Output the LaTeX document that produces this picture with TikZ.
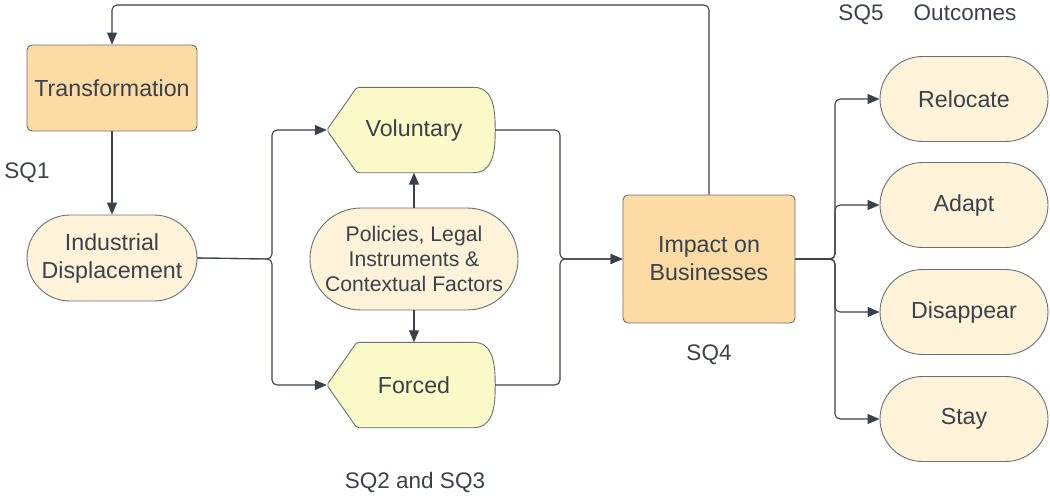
\documentclass[tikz,border=0pt]{standalone}
\usepackage{fontspec}
\setmainfont{Liberation Sans}
\usetikzlibrary{shapes.misc,arrows.meta,calc,backgrounds}
\definecolor{orangefill}{HTML}{FDDBA4}
\definecolor{creamfill}{HTML}{FEF2D9}
\definecolor{yellowfill}{HTML}{FAFAC8}
\definecolor{edgegray}{HTML}{6B6E73}
\definecolor{ink}{HTML}{3A414A}
\begin{document}
\begin{tikzpicture}[x=1pt,y=-1pt,
  every node/.style={text=ink, inner sep=0pt},
  mainfont/.style={font=\fontsize{23.2}{28}\selectfont},
  procbox/.style={draw=edgegray, line width=0.9pt, fill=orangefill, rounded corners=5pt, mainfont, align=center},
  stadium/.style={draw=edgegray, line width=0.9pt, fill=creamfill, rounded rectangle, mainfont, align=center},
  dispnode/.style={minimum width=168pt, minimum height=85pt, mainfont},
  dispshape/.style={draw=edgegray, line width=0.9pt, fill=yellowfill, rounded corners=2pt},
  lbl/.style={font=\fontsize{22.5}{26}\selectfont, anchor=base},
  conn/.style={draw=ink, line width=1.1pt, rounded corners=5pt},
  arr/.style={conn, -{Triangle[length=12pt,width=10pt]}}
]
\useasboundingbox (0,0) rectangle (1050,498);

% nodes
\node[procbox, minimum width=170pt, minimum height=86pt] (trans) at (112,88) {Transformation};
\node[stadium, minimum width=170pt, minimum height=86pt] (disp) at (112,258) {Industrial\\Displacement};
\node[dispnode] (vol) at (411,130) {\hspace*{6pt}Voluntary};
\node[dispnode] (forc) at (411,385) {\hspace*{6pt}Forced};
\node[stadium, minimum width=208pt, minimum height=102pt, font=\fontsize{21.2}{25}\selectfont] (pol) at (414,259) {Policies, Legal\\Instruments \&\\Contextual Factors};
\node[procbox, minimum width=172pt, minimum height=128pt] (imp) at (709,259) {Impact on\\Businesses};
\node[stadium, minimum width=168pt, minimum height=85pt] (rel) at (964,99) {Relocate};
\node[stadium, minimum width=168pt, minimum height=85pt] (ada) at (964,205) {Adapt};
\node[stadium, minimum width=168pt, minimum height=85pt] (dis) at (964,312) {Disappear};
\node[stadium, minimum width=168pt, minimum height=85pt] (sta) at (964,419) {Stay};

% display shapes
\begin{scope}[on background layer]
\foreach \n in {vol,forc}{
\draw[dispshape] (\n.west) -- ($(\n.north west)+(30,0)$) -- ($(\n.north east)+(-24,0)$)
  .. controls ($(\n.north east)+(-4,0)$) and ($(\n.east)+(0,-26)$) .. (\n.east)
  .. controls ($(\n.east)+(0,26)$) and ($(\n.south east)+(-4,0)$) .. ($(\n.south east)+(-24,0)$)
  -- ($(\n.south west)+(30,0)$) -- cycle;
}
\end{scope}

% labels
\node[lbl] (sq1) at (27,178) {SQ1};
\node[lbl] (sq4) at (709,360) {SQ4};
\node[lbl] (sq23) at (415,488) {SQ2 and SQ3};
\node[lbl] (sq5) at (861,20) {SQ5};
\node[lbl] (outc) at (965,20) {Outcomes};

% junctions
\coordinate (jl) at (272,259);
\coordinate (jr) at (560,259);
\coordinate (jo) at (835,259);
\coordinate (fb) at (112,5);

% connectors
\draw[arr] (trans.south) -- (disp.north);
\draw[arr] (disp.east) -- (jl) |- (vol.west);
\draw[arr] (disp.east) -- (jl) |- (forc.west);
\draw[arr] (pol.north) -- (pol.north |- vol.south);
\draw[arr] (pol.south) -- (pol.south |- forc.north);
\draw[arr] (vol.east) -| (jr) -- (imp.west);
\draw[arr] (forc.east) -| (jr) -- (imp.west);
\draw[arr] (imp.east) -- (jo) |- (rel.west);
\draw[arr] (imp.east) -- (jo) |- (ada.west);
\draw[arr] (imp.east) -- (jo) |- (dis.west);
\draw[arr] (imp.east) -- (jo) |- (sta.west);
\draw[arr] (imp.north) |- (fb) -- (trans.north);
\end{tikzpicture}
\end{document}
